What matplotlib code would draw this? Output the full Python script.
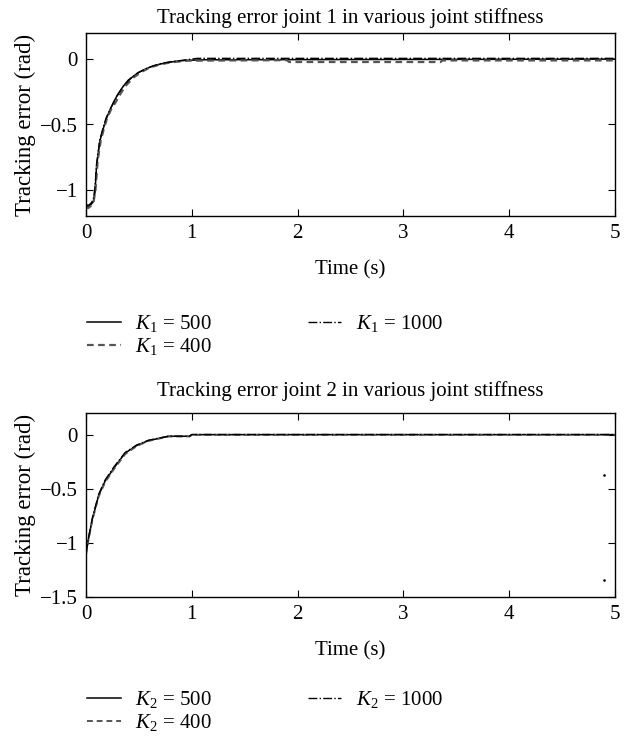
import matplotlib
matplotlib.use("Agg")
import matplotlib.pyplot as plt
import numpy as np

plt.rcParams["font.family"] = ["Liberation Serif", "DejaVu Serif"]
plt.rcParams["mathtext.fontset"] = "custom"
plt.rcParams["mathtext.rm"] = "Liberation Serif"
plt.rcParams["mathtext.it"] = "Liberation Serif:italic"
plt.rcParams["axes.unicode_minus"] = True

# joint 1
t1 = [0, 0.02, 0.05, 0.07, 0.085, 0.10, 0.13, 0.16, 0.19, 0.22, 0.26, 0.30,
      0.35, 0.40, 0.45, 0.50, 0.55, 0.61, 0.70, 0.77, 0.85, 0.93, 1.1, 5.0]
e1_500 = [-1.12, -1.13, -1.11, -1.09, -1.02, -0.82, -0.63, -0.54, -0.46, -0.40,
          -0.33, -0.27, -0.21, -0.16, -0.13, -0.10, -0.08, -0.06, -0.038, -0.026,
          -0.017, -0.01, -0.005, 0.0]
t1_400 = [0, 0.02, 0.05, 0.07, 0.09, 0.11, 0.14, 0.17, 0.20, 0.24, 0.28, 0.33,
          0.38, 0.45, 0.52, 0.60, 0.70, 0.80, 0.95, 1.9, 1.92, 3.35, 3.37, 5.0]
e1_400 = [-1.13, -1.14, -1.12, -1.10, -1.0, -0.78, -0.62, -0.53, -0.45, -0.38,
          -0.33, -0.26, -0.20, -0.14, -0.10, -0.065, -0.04, -0.025, -0.012,
          -0.008, -0.022, -0.022, -0.01, -0.01]
t1_1000 = [0, 0.02, 0.05, 0.07, 0.085, 0.10, 0.13, 0.16, 0.19, 0.23, 0.27, 0.31,
           0.36, 0.42, 0.48, 0.55, 0.62, 0.70, 0.80, 0.92, 1.05, 5.0]
e1_1000 = [-1.11, -1.12, -1.10, -1.07, -0.98, -0.80, -0.62, -0.53, -0.45, -0.38,
           -0.32, -0.26, -0.20, -0.15, -0.11, -0.08, -0.055, -0.035, -0.02,
           -0.008, 0.006, 0.006]

# joint 2
t2 = [0, 0.02, 0.06, 0.12, 0.18, 0.27, 0.37, 0.48, 0.59, 0.71, 0.78, 0.98,
      1.0, 5.0]
e2_500 = [-1.1, -0.98, -0.78, -0.56, -0.43, -0.30, -0.17, -0.10, -0.055,
          -0.03, -0.015, -0.015, 0.0, 0.0]
e2_400 = [-1.11, -0.99, -0.79, -0.57, -0.44, -0.31, -0.18, -0.105, -0.058,
          -0.032, -0.017, -0.016, -0.002, -0.002]
e2_1000 = [-1.09, -0.97, -0.77, -0.55, -0.42, -0.29, -0.165, -0.095, -0.052,
           -0.028, -0.014, -0.014, 0.001, 0.001]
# two stray dots near the right edge
stray_t = [4.9, 4.9]
stray_e = [-0.37, -1.34]

labels1 = ["$K_1$ = 500", "$K_1$ = 400", "$K_1$ = 1000"]
labels2 = ["$K_2$ = 500", "$K_2$ = 400", "$K_2$ = 1000"]

fs = 15
fig = plt.figure(figsize=(6.32, 7.37), dpi=100)
ax1 = fig.add_axes([86 / 632, 1 - 216 / 737, 529 / 632, 183 / 737])
ax2 = fig.add_axes([86 / 632, 1 - 597 / 737, 529 / 632, 184 / 737])


def style(ax, ylim, yticks, yticklabels, title, tpad):
    ax.set_xlim(0, 5)
    ax.set_ylim(*ylim)
    ax.set_xticks([0, 1, 2, 3, 4, 5])
    ax.set_yticks(yticks)
    ax.set_yticklabels(yticklabels)
    ax.tick_params(direction="in", top=True, right=True, length=5,
                   width=0.8, labelsize=fs, pad=6)
    for s in ax.spines.values():
        s.set_linewidth(1.0)
    ax.set_xlabel("Time (s)", fontsize=fs, labelpad=12)
    ax.set_ylabel("Tracking error (rad)", fontsize=fs + 1.5, labelpad=3)
    ax.set_title(title, fontsize=fs, pad=tpad)


l1, = ax1.plot(t1, e1_500, "-", color="black", lw=1.1)
l2, = ax1.plot(t1_400, e1_400, "--", color="#555555", lw=1.6, dashes=(3, 2))
l3, = ax1.plot(t1_1000, e1_1000, "-.", color="black", lw=1.0)
style(ax1, (-1.2, 0.2), [-1, -0.5, 0], ["\u22121", "\u22120.5", "0"],
      "Tracking error joint 1 in various joint stiffness", 7)

m1, = ax2.plot(t2, e2_500, "-", color="black", lw=1.1)
m2, = ax2.plot(t2, e2_400, "--", color="#555555", lw=1.4, dashes=(3, 2))
m3, = ax2.plot(t2, e2_1000, "-.", color="black", lw=1.0)
ax2.plot(stray_t, stray_e, "s", color="black", ms=0.8, lw=0)
style(ax2, (-1.5, 0.2), [-1.5, -1, -0.5, 0],
      ["\u22121.5", "\u22121", "\u22120.5", "0"],
      "Tracking error joint 2 in various joint stiffness", 12)

leg_kw = dict(loc="upper left", ncol=2, frameon=False, fontsize=fs,
              handlelength=1.6, handletextpad=0.7, columnspacing=4.6,
              labelspacing=0.1, borderaxespad=0)
fig.legend([l1, l2, l3], labels1, bbox_to_anchor=(79 / 632, 1 - 305 / 737),
           **leg_kw)
fig.legend([m1, m2, m3], labels2, bbox_to_anchor=(79 / 632, 1 - 681 / 737),
           **leg_kw)

fig.savefig("out.png", dpi=100)
